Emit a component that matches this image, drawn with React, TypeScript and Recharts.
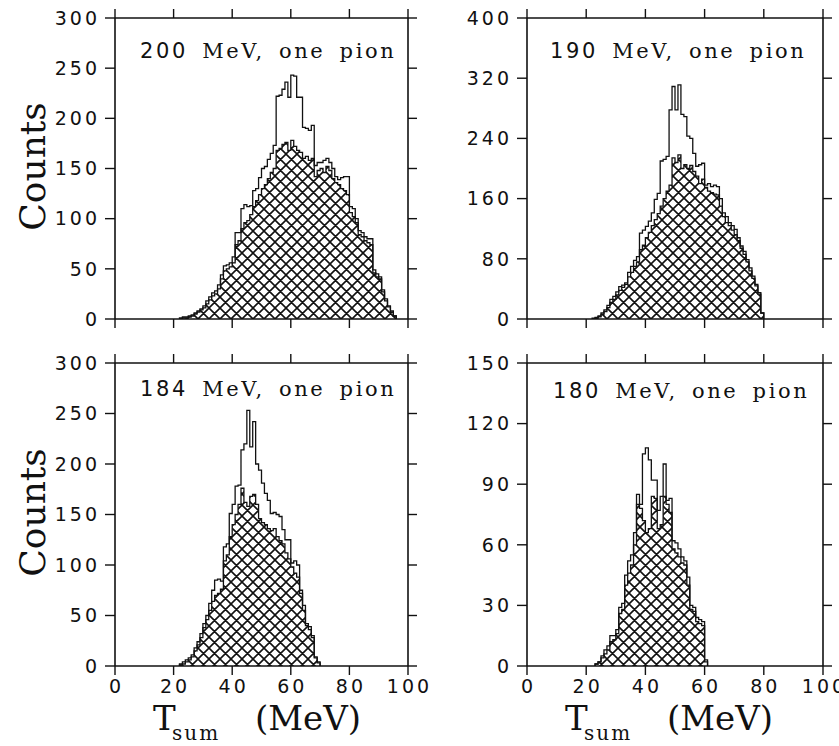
import React from 'react';
import { ComposedChart, Area, XAxis, YAxis } from 'recharts';

// ---------- data (1 MeV bins, value = counts, first bin starts at *Start) ----------
const xTicks = [0, 20, 40, 60, 80, 100];

const p200Title = '200';
const p200Start = 22;
const p200Total = [1, 2, 2, 3, 4, 6, 8, 10, 13, 18, 22, 26, 28, 34, 44, 53, 54, 56, 62, 86, 86, 110, 114, 112, 113, 128, 130, 141, 150, 152, 159, 165, 173, 222, 223, 229, 236, 221, 243, 242, 221, 221, 191, 190, 188, 193, 153, 156, 156, 158, 160, 156, 150, 142, 139, 141, 142, 142, 112, 110, 100, 88, 86, 82, 80, 80, 49, 45, 42, 29, 20, 13, 8, 3];
const p200Hatched = [0, 1, 1, 2, 3, 5, 7, 9, 11, 15, 19, 23, 25, 30, 40, 48, 50, 52, 56, 74, 78, 90, 96, 98, 104, 112, 118, 124, 130, 134, 140, 146, 150, 168, 170, 174, 176, 168, 178, 172, 168, 166, 160, 162, 158, 160, 142, 148, 150, 146, 152, 148, 140, 136, 134, 130, 128, 124, 106, 102, 96, 84, 82, 78, 76, 74, 46, 42, 40, 27, 18, 12, 7, 3];
const p200YTicks = [0, 50, 100, 150, 200, 250, 300];

const p190Title = '190';
const p190Start = 22;
const p190Total = [1, 2, 4, 8, 12, 18, 26, 30, 36, 43, 45, 48, 62, 70, 78, 83, 114, 118, 123, 130, 141, 159, 167, 210, 212, 216, 278, 309, 278, 311, 272, 269, 243, 240, 220, 203, 205, 207, 178, 180, 176, 178, 176, 160, 141, 136, 128, 124, 119, 108, 97, 90, 79, 68, 57, 46, 35, 8];
const p190Hatched = [0, 1, 3, 6, 10, 15, 22, 26, 32, 38, 42, 46, 56, 62, 70, 76, 92, 98, 108, 115, 124, 132, 140, 150, 160, 170, 178, 214, 208, 218, 200, 205, 200, 204, 196, 190, 180, 186, 175, 170, 168, 166, 165, 150, 136, 128, 124, 118, 112, 104, 94, 86, 76, 64, 54, 44, 33, 8];
const p190YTicks = [0, 80, 160, 240, 320, 400];

const p184Title = '184';
const p184Start = 22;
const p184Total = [2, 4, 6, 8, 11, 18, 24, 32, 42, 50, 62, 75, 85, 86, 84, 118, 121, 151, 160, 178, 179, 214, 220, 253, 217, 242, 200, 194, 181, 171, 164, 151, 152, 150, 148, 135, 125, 125, 102, 104, 100, 75, 60, 42, 39, 30, 9, 4];
const p184Hatched = [1, 2, 4, 6, 9, 15, 21, 28, 38, 46, 55, 64, 70, 72, 76, 104, 110, 128, 140, 150, 160, 176, 162, 158, 168, 170, 160, 146, 142, 140, 136, 134, 136, 128, 124, 121, 112, 106, 98, 92, 88, 72, 55, 40, 36, 28, 8, 3];
const p184YTicks = [0, 50, 100, 150, 200, 250, 300];

const p180Title = '180';
const p180Start = 23;
const p180Total = [1, 2, 5, 8, 10, 15, 15, 18, 29, 31, 45, 52, 55, 66, 85, 80, 105, 108, 102, 92, 92, 77, 84, 100, 82, 83, 62, 61, 58, 54, 52, 44, 30, 29, 24, 23, 22, 3];
const p180Hatched = [1, 2, 4, 6, 8, 12, 13, 16, 26, 28, 40, 46, 50, 60, 80, 78, 72, 66, 68, 84, 83, 68, 70, 84, 80, 76, 58, 56, 54, 51, 50, 40, 28, 27, 22, 21, 20, 2];
const p180YTicks = [0, 30, 60, 90, 120, 150];

// ---------- helpers ----------
function buildData(start: number, total: number[], hatched: number[]) {
  const rows: { x: number; total: number; hatched: number }[] = [{ x: start, total: 0, hatched: 0 }];
  total.forEach((v, k) => rows.push({ x: start + k, total: v, hatched: hatched[k] }));
  rows.push({ x: start + total.length, total: 0, hatched: 0 });
  return rows;
}

const INK = '#111';
const axisLine = { stroke: INK, strokeWidth: 1.6 };
const tickLine = { stroke: INK, strokeWidth: 1.4 };
const blank = () => '';
const tickFont = { fill: INK, fontSize: 19, fontFamily: 'DejaVu Sans', letterSpacing: 3 };

type PanelProps = {
  left: number;
  top: number;
  width: number;
  height: number;
  marginTop: number;
  marginRight: number;
  yWidth: number;
  bottomH: number;
  start: number;
  total: number[];
  hatched: number[];
  yMax: number;
  yTicks: number[];
  showX: boolean;
};

function Panel(p: PanelProps) {
  const data = buildData(p.start, p.total, p.hatched);
  return (
    <div style={{ position: 'absolute', left: p.left, top: p.top, width: p.width, height: p.height }}>
      <ComposedChart
        width={p.width}
        height={p.height}
        data={data}
        margin={{ top: p.marginTop, right: p.marginRight, bottom: 0, left: 0 }}
        style={{ overflow: 'visible' }}
      >
        <XAxis
          xAxisId="b"
          dataKey="x"
          type="number"
          domain={[0, 100]}
          ticks={xTicks}
          interval={0}
          allowDataOverflow
          height={p.bottomH}
          tickSize={9}
          tickMargin={5}
          axisLine={axisLine}
          tickLine={tickLine}
          tick={{ ...tickFont, dx: 1.5 }}
          tickFormatter={p.showX ? undefined : blank}
        />
        <XAxis
          xAxisId="t"
          orientation="top"
          dataKey="x"
          type="number"
          domain={[0, 100]}
          ticks={xTicks}
          interval={0}
          allowDataOverflow
          height={10}
          tickSize={9}
          axisLine={axisLine}
          tickLine={tickLine}
          tickFormatter={blank}
        />
        <YAxis
          yAxisId="l"
          type="number"
          domain={[0, p.yMax]}
          ticks={p.yTicks}
          interval={0}
          allowDataOverflow
          width={p.yWidth}
          tickSize={10}
          tickMargin={5}
          axisLine={axisLine}
          tickLine={tickLine}
          tick={tickFont}
        />
        <YAxis
          yAxisId="r"
          orientation="right"
          type="number"
          domain={[0, p.yMax]}
          ticks={p.yTicks}
          interval={0}
          allowDataOverflow
          width={12}
          tickSize={9}
          axisLine={axisLine}
          tickLine={tickLine}
          tickFormatter={blank}
        />
        <Area
          xAxisId="b"
          yAxisId="l"
          type="stepAfter"
          dataKey="total"
          stroke={INK}
          strokeWidth={1.3}
          fill="none"
          dot={false}
          activeDot={false}
          isAnimationActive={false}
        />
        <Area
          xAxisId="b"
          yAxisId="l"
          type="stepAfter"
          dataKey="hatched"
          stroke={INK}
          strokeWidth={1.3}
          fill="url(#xhatch)"
          fillOpacity={1}
          dot={false}
          activeDot={false}
          isAnimationActive={false}
        />
      </ComposedChart>
    </div>
  );
}

function Title({ x, y, num }: { x: number; y: number; num: string }) {
  return (
    <text x={x} y={y} fontFamily="DejaVu Serif" fontSize={21} letterSpacing={2.6} wordSpacing={5} fill={INK}>
      <tspan fontFamily="DejaVu Sans">{num}</tspan>
      {' MeV, one pion'}
    </text>
  );
}

function XTitle({ x }: { x: number }) {
  return (
    <text fontFamily="DejaVu Serif" fontSize={34} fill={INK}>
      <tspan x={x} y={730}>T</tspan>
      <tspan x={x + 19} y={740} fontSize={20} letterSpacing={2}>sum</tspan>
      <tspan x={x + 102} y={730}>(MeV)</tspan>
    </text>
  );
}

export default function App() {
  return (
    <div style={{ position: 'absolute', left: 0, top: 0, width: 839, height: 746, background: '#fff', overflow: 'hidden' }}>
      <svg width={0} height={0} style={{ position: 'absolute' }}>
        <defs>
          <pattern id="xhatch" patternUnits="userSpaceOnUse" width={11} height={11}>
            <path
              d="M-2,2 L2,-2 M0,11 L11,0 M9,13 L13,9 M-2,9 L2,13 M0,0 L11,11 M9,-2 L13,2"
              stroke={INK}
              strokeWidth={1.6}
              fill="none"
            />
          </pattern>
        </defs>
      </svg>

      <Panel left={0} top={0} width={440} height={330} marginTop={8} marginRight={20} yWidth={115} bottomH={11}
        start={p200Start} total={p200Total} hatched={p200Hatched} yMax={300} yTicks={p200YTicks} showX={false} />
      <Panel left={420} top={0} width={419} height={330} marginTop={8} marginRight={4} yWidth={107} bottomH={11}
        start={p190Start} total={p190Total} hatched={p190Hatched} yMax={400} yTicks={p190YTicks} showX={false} />
      <Panel left={0} top={340} width={440} height={366} marginTop={13} marginRight={20} yWidth={115} bottomH={40}
        start={p184Start} total={p184Total} hatched={p184Hatched} yMax={300} yTicks={p184YTicks} showX={true} />
      <Panel left={420} top={340} width={419} height={366} marginTop={13} marginRight={4} yWidth={107} bottomH={40}
        start={p180Start} total={p180Total} hatched={p180Hatched} yMax={150} yTicks={p180YTicks} showX={true} />

      <svg width={839} height={746} style={{ position: 'absolute', left: 0, top: 0, pointerEvents: 'none' }}>
        <Title x={140} y={57.5} num={p200Title} />
        <Title x={550} y={58} num={p190Title} />
        <Title x={140} y={395.5} num={p184Title} />
        <Title x={553} y={398} num={p180Title} />
        <text transform="translate(45,166.5) rotate(-90)" textAnchor="middle" fontFamily="DejaVu Serif" fontSize={36} fill={INK}>
          Counts
        </text>
        <text transform="translate(45,512.5) rotate(-90)" textAnchor="middle" fontFamily="DejaVu Serif" fontSize={36} fill={INK}>
          Counts
        </text>
        <XTitle x={153} />
        <XTitle x={565} />
      </svg>
    </div>
  );
}
